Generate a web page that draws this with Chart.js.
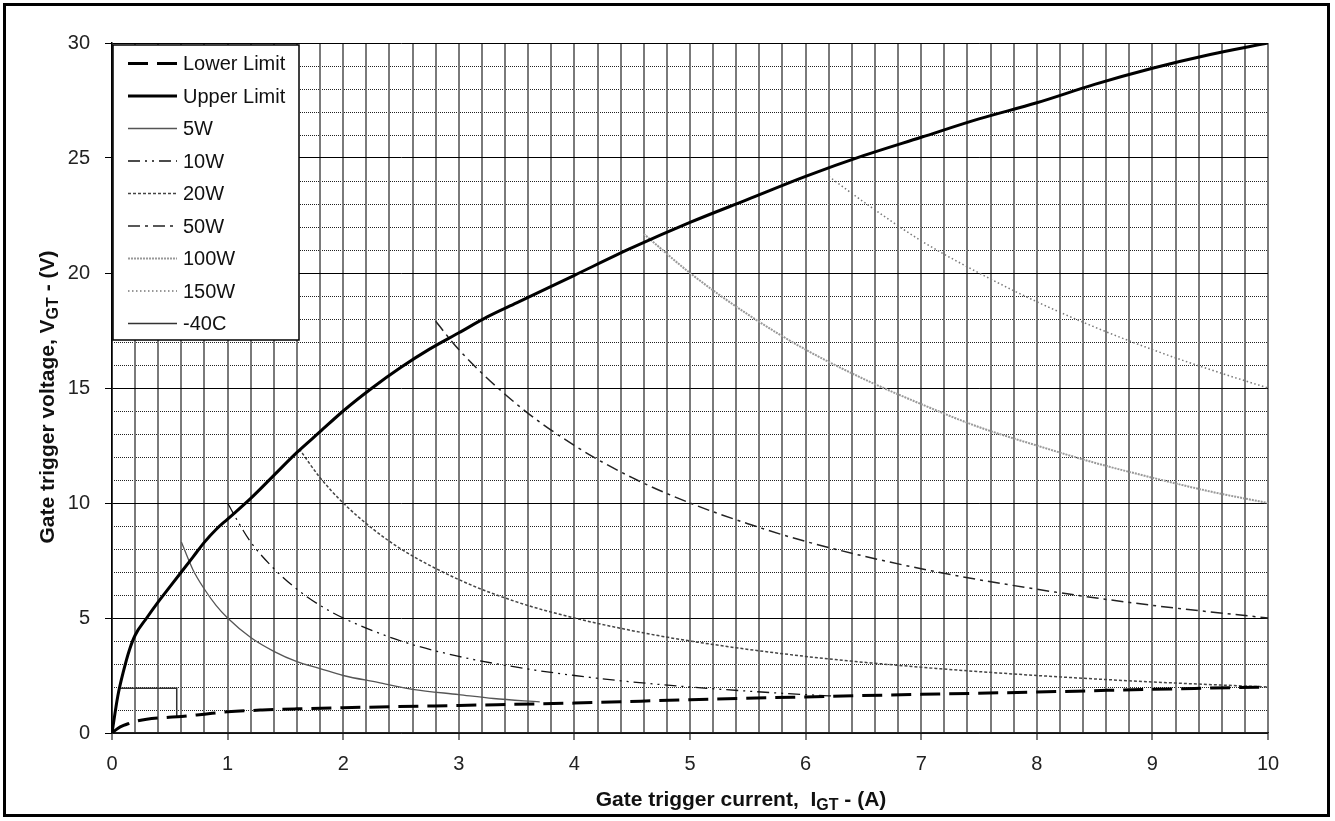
<!DOCTYPE html>
<html>
<head>
<meta charset="utf-8">
<script src="https://cdn.jsdelivr.net/npm/chart.js@4/dist/chart.umd.min.js"></script>
<style>
html, body { margin: 0; padding: 0; background: #fff; }
#wrap { position: relative; width: 1335px; height: 821px; font-family: 'Liberation Sans', Arial, sans-serif; }
#frame { position: absolute; left: 3px; top: 3px; width: 1321px; height: 808px; border: 3px solid #000; pointer-events: none; }
canvas { position: absolute; left: 0; top: 0; }
.ttl { position: absolute; font-weight: bold; font-size: 21px; line-height: 24px; color: #111; white-space: pre; }
.ttl sub { font-size: 16px; vertical-align: -4px; line-height: 0; }
#xt { left: 741px; top: 787px; transform: translateX(-50%); }
#yt { left: 47px; top: 397px; transform: translate(-50%, -50%) rotate(-90deg); }
</style>
</head>
<body>
<div id="wrap">
  <canvas id="c" width="1335" height="821"></canvas>
  <div class="ttl" id="xt">Gate trigger current,  I<sub>GT</sub> - (A)</div>
  <div class="ttl" id="yt">Gate trigger voltage, V<sub>GT</sub> - (V)</div>
  <div id="frame"></div>
</div>
<script>
// === DATA ===
const lowerX = [0, 0.05, 0.1, 0.15, 0.2, 0.3, 0.45, 0.6, 0.8, 1.0, 1.3, 1.6, 2, 3, 4, 5, 6, 7, 8, 9, 10];
const lowerY = [0, 0.2, 0.33, 0.42, 0.5, 0.6, 0.67, 0.72, 0.82, 0.92, 1.0, 1.05, 1.1, 1.2, 1.3, 1.45, 1.57, 1.68, 1.78, 1.9, 2.0];

const upperX = [0, 0.05, 0.1, 0.15, 0.2, 0.3, 0.4, 0.5, 0.6, 0.7, 0.8, 0.9, 1.0, 1.2, 1.4, 1.6, 1.8, 2.0, 2.25, 2.5, 2.75, 3.0, 3.25, 3.5, 4.0, 4.5, 5.0, 5.5, 6.0, 6.5, 7.0, 7.5, 8.0, 8.5, 9.0, 9.5, 10];
const upperY = [0, 1.6, 2.7, 3.6, 4.25, 5.0, 5.7, 6.35, 7.0, 7.65, 8.3, 8.85, 9.3, 10.2, 11.2, 12.2, 13.1, 14.0, 15.0, 15.9, 16.7, 17.4, 18.1, 18.7, 19.9, 21.1, 22.2, 23.2, 24.2, 25.1, 25.9, 26.7, 27.4, 28.2, 28.9, 29.5, 30];

const w5X = [0.6, 0.7, 0.8, 0.9, 1.0, 1.2, 1.4, 1.6, 1.8, 2.0, 2.3, 2.6, 3.0, 3.3, 3.7];
const w5Y = [8.3, 7.1, 6.25, 5.55, 5.0, 4.15, 3.55, 3.1, 2.8, 2.5, 2.2, 1.9, 1.67, 1.5, 1.35];

const w10X = [1.0, 1.1, 1.2, 1.4, 1.6, 1.8, 2.0, 2.5, 3.0, 3.5, 4.0, 4.5, 5.0, 5.5, 6.0, 6.3];
const w10Y = [10.0, 9.1, 8.3, 7.15, 6.25, 5.55, 5.0, 4.0, 3.33, 2.86, 2.5, 2.22, 2.0, 1.82, 1.67, 1.59];

const w20X = [1.62, 1.8, 2.0, 2.25, 2.5, 3.0, 3.5, 4.0, 4.5, 5.0, 6.0, 7.0, 8.0, 9.0, 10];
const w20Y = [12.35, 11.1, 10.0, 8.9, 8.0, 6.67, 5.7, 5.0, 4.45, 4.0, 3.33, 2.86, 2.5, 2.22, 2.0];

const w50X = [2.8, 3.0, 3.5, 4.0, 4.5, 5.0, 5.5, 6.0, 7.0, 8.0, 9.0, 10];
const w50Y = [17.9, 16.67, 14.3, 12.5, 11.1, 10.0, 9.1, 8.33, 7.14, 6.25, 5.55, 5.0];

const w100X = [4.6, 5.0, 5.5, 6.0, 6.5, 7.0, 7.5, 8.0, 8.5, 9.0, 9.5, 10];
const w100Y = [21.7, 20.0, 18.2, 16.67, 15.4, 14.3, 13.3, 12.5, 11.75, 11.1, 10.5, 10.0];

const w150X = [6.2, 6.5, 7.0, 7.5, 8.0, 8.5, 9.0, 9.5, 10];
const w150Y = [24.2, 23.1, 21.4, 20.0, 18.75, 17.65, 16.67, 15.8, 15.0];

const cold40X = [0.07, 0.56, 0.56];
const cold40Y = [1.95, 1.95, 0.72];

const xMin = 0, xMax = 10, xStep = 0.2;
const yMin = 0, yMax = 30, yStep = 1, yMajor = 5;

// === HELPERS ===
const FONT = "'Liberation Sans', Arial, sans-serif";
const pts = (xs, ys) => xs.map((x, i) => ({ x, y: ys[i] }));
const isInt = v => Math.abs(v - Math.round(v)) < 1e-6;

function line(label, xs, ys, color, width, dash, straight) {
    return {
        label, data: pts(xs, ys),
        borderColor: color, borderWidth: width, borderDash: dash,
        pointRadius: 0, fill: false,
        tension: 0, cubicInterpolationMode: straight ? 'default' : 'monotone'
    };
}

// dotted minor horizontal lines, under everything else
const minorGrid = {
    id: 'minorGrid',
    beforeDraw(chart) {
        const { ctx, chartArea: a, scales: { y } } = chart;
        ctx.save();
        ctx.strokeStyle = '#222';
        ctx.lineWidth = 1;
        ctx.setLineDash([1, 1]);
        y.ticks.forEach(t => {
            if (t.value % yMajor === 0) return;
            const py = Math.round(y.getPixelForValue(t.value)) + 0.5;
            ctx.beginPath();
            ctx.moveTo(a.left, py);
            ctx.lineTo(a.right, py);
            ctx.stroke();
        });
        ctx.restore();
    }
};

// boxed legend in the top-left corner of the plot
const boxLegend = {
    id: 'boxLegend',
    afterDatasetsDraw(chart) {
        const ctx = chart.ctx;
        const l = 113, t = 45, w = 186, h = 295;
        ctx.save();
        ctx.fillStyle = '#fff';
        ctx.fillRect(l, t, w, h);
        ctx.strokeStyle = '#000';
        ctx.lineWidth = 1.5;
        ctx.strokeRect(l, t, w, h);
        ctx.font = '20px ' + FONT;
        ctx.textBaseline = 'middle';
        chart.data.datasets.forEach((ds, i) => {
            const y = 63.5 + i * 32.5;
            ctx.beginPath();
            ctx.setLineDash(ds.borderDash || []);
            ctx.strokeStyle = ds.borderColor;
            ctx.lineWidth = ds.borderWidth;
            ctx.moveTo(128, y);
            ctx.lineTo(177, y);
            ctx.stroke();
            ctx.setLineDash([]);
            ctx.fillStyle = '#111';
            ctx.fillText(ds.label, 183, y + 1);
        });
        ctx.restore();
    }
};

// === CHART ===
new Chart(document.getElementById('c'), {
    type: 'line',
    data: {
        datasets: [
            line('Lower Limit', lowerX, lowerY, '#000', 3, [20, 9]),
            line('Upper Limit', upperX, upperY, '#000', 3, []),
            line('5W', w5X, w5Y, '#555', 1.3, []),
            line('10W', w10X, w10Y, '#111', 1.3, [12, 5, 2, 5, 2, 5]),
            line('20W', w20X, w20Y, '#444', 1.5, [3, 2]),
            line('50W', w50X, w50Y, '#222', 1.5, [12, 5, 3, 5]),
            line('100W', w100X, w100Y, '#999', 2, [2, 1]),
            line('150W', w150X, w150Y, '#777', 1.5, [1.5, 2.5]),
            line('-40C', cold40X, cold40Y, '#333', 1.5, [], true)
        ]
    },
    options: {
        responsive: false,
        animation: false,
        layout: { padding: { left: 0, top: 43, right: 67, bottom: 0 } },
        plugins: { legend: { display: false }, tooltip: { enabled: false } },
        scales: {
            x: {
                type: 'linear', min: xMin, max: xMax,
                afterFit(s) { s.height = 88; },
                ticks: {
                    stepSize: xStep, autoSkip: false, maxRotation: 0, padding: 12,
                    color: '#222', font: { family: FONT, size: 20 },
                    callback: v => isInt(v) ? String(Math.round(v)) : ''
                },
                grid: {
                    color: '#7a7a7a', lineWidth: 2, tickLength: 7,
                    tickColor: c => isInt(c.tick.value) ? '#7a7a7a' : 'transparent'
                },
                border: { color: '#222', width: 1.5 }
            },
            y: {
                type: 'linear', min: yMin, max: yMax,
                afterFit(s) { s.width = 112; },
                ticks: {
                    stepSize: yStep, autoSkip: false, padding: 15,
                    color: '#222', font: { family: FONT, size: 20 },
                    callback: v => v % yMajor === 0 ? String(v) : ''
                },
                grid: {
                    color: c => c.tick.value % yMajor === 0 ? '#000' : 'transparent',
                    lineWidth: 1, tickLength: 7,
                    tickColor: c => c.tick.value % yMajor === 0 ? '#000' : 'transparent'
                },
                border: { color: '#000', width: 1.5 }
            }
        }
    },
    plugins: [minorGrid, boxLegend]
});
</script>
</body>
</html>
